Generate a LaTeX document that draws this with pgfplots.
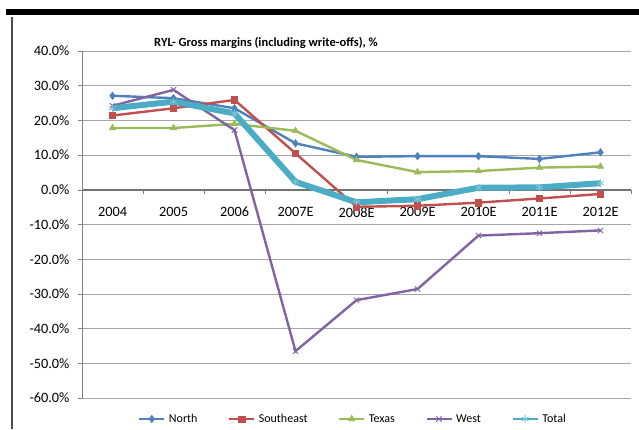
\documentclass[border=0pt]{standalone}
\usepackage{pgfplots}
\pgfplotsset{compat=1.18}
\usepackage{fontspec}
\setmainfont{Carlito}
\definecolor{cNorth}{HTML}{4F81BD}
\definecolor{cSE}{HTML}{C0504D}
\definecolor{cTX}{HTML}{9BBB59}
\definecolor{cWest}{HTML}{8064A2}
\definecolor{cTot}{HTML}{4BACC6}
\begin{document}
\begin{tikzpicture}[x=1pt,y=1pt]
\useasboundingbox (0,0) rectangle (639,429);
\fill[black] (6,414) rectangle (639,420);
\draw[color=black!70,line width=1.3pt] (12,412) -- (12,0);
\node[font=\fontsize{12.5}{14}\selectfont\bfseries] at (266,386) {RYL- Gross margins (including write-offs), \%};
\begin{axis}[
  at={(82pt,31pt)}, anchor=south west,
  scale only axis, width=549pt, height=347pt,
  xmin=-0.5, xmax=8.5, ymin=-60, ymax=40,
  axis y line=left, axis x line=middle,
  axis line style={-},
  y axis line style={draw=black!50, line width=0.8pt},
  x axis line style={draw=black!55, line width=1.4pt},
  xtick={0,...,8},
  xticklabels={2004,2005,2006,2007E,2008E,2009E,2010E,2011E,2012E},
  major x tick style={draw=none},
  minor xtick={-0.5,0.5,...,8.5},
  minor x tick style={draw=black!50, line width=0.6pt},
  minor tick length=4pt,
  xtick align=outside,
  ytick={-60,-50,...,40},
  ytick align=outside,
  major y tick style={draw=black!50, line width=0.6pt},
  major tick length=4pt,
  ymajorgrids, grid style={draw=black!35, line width=0.8pt},
  yticklabel={\pgfmathprintnumber[fixed,fixed zerofill,precision=1,assume math mode=true]{\tick}\%},
  ticklabel style={font=\fontsize{14.3}{16}\selectfont},
  xticklabel style={yshift=-10pt},
  yticklabel style={xshift=-5pt},
  clip=false,
  legend columns=5,
  legend style={draw=none, fill=none, at={(0.494,-0.0605)}, anchor=center,
    font=\fontsize{12}{14}\selectfont, inner sep=0pt,
    /tikz/every even column/.append style={column sep=29pt},
    /tikz/every odd column/.append style={column sep=2pt}},
  legend image code/.code={\draw[mark repeat=2,mark phase=2,#1,line width=1.3pt] plot coordinates {(0pt,0pt) (12.5pt,0pt) (25pt,0pt)};},
  every axis plot/.append style={line width=2.4pt},
]
\addplot[color=cNorth, mark=diamond*, mark size=3.8pt, mark options={fill=cNorth, line width=0.5pt}] coordinates {
(0,27.1) (1,26.4) (2,23.5) (3,13.4) (4,9.5) (5,9.7) (6,9.7) (7,8.9) (8,10.8)};
\addplot[color=cSE, mark=square*, mark size=3.2pt, mark options={fill=cSE, line width=0.5pt}] coordinates {
(0,21.4) (1,23.5) (2,25.9) (3,10.5) (4,-4.9) (5,-4.6) (6,-3.7) (7,-2.5) (8,-1.2)};
\addplot[color=cTX, mark=triangle*, mark size=3.8pt, mark options={fill=cTX, line width=0.5pt}] coordinates {
(0,17.8) (1,17.8) (2,19.0) (3,17.0) (4,8.6) (5,5.1) (6,5.4) (7,6.4) (8,6.7)};
\addplot[color=cWest, mark=x, mark size=3.8pt, mark options={line width=0.9pt}] coordinates {
(0,24.2) (1,28.8) (2,17.2) (3,-46.5) (4,-31.8) (5,-28.6) (6,-13.2) (7,-12.5) (8,-11.7)};
\addplot[color=cTot, line width=6pt, mark=asterisk, mark size=3.8pt, mark options={line width=0.9pt, color=cTot!70!white}] coordinates {
(0,23.5) (1,25.4) (2,22.0) (3,2.3) (4,-3.6) (5,-2.7) (6,0.6) (7,0.7) (8,1.9)};
\legend{North,Southeast,Texas,West,Total}
\end{axis}
\end{tikzpicture}
\end{document}
